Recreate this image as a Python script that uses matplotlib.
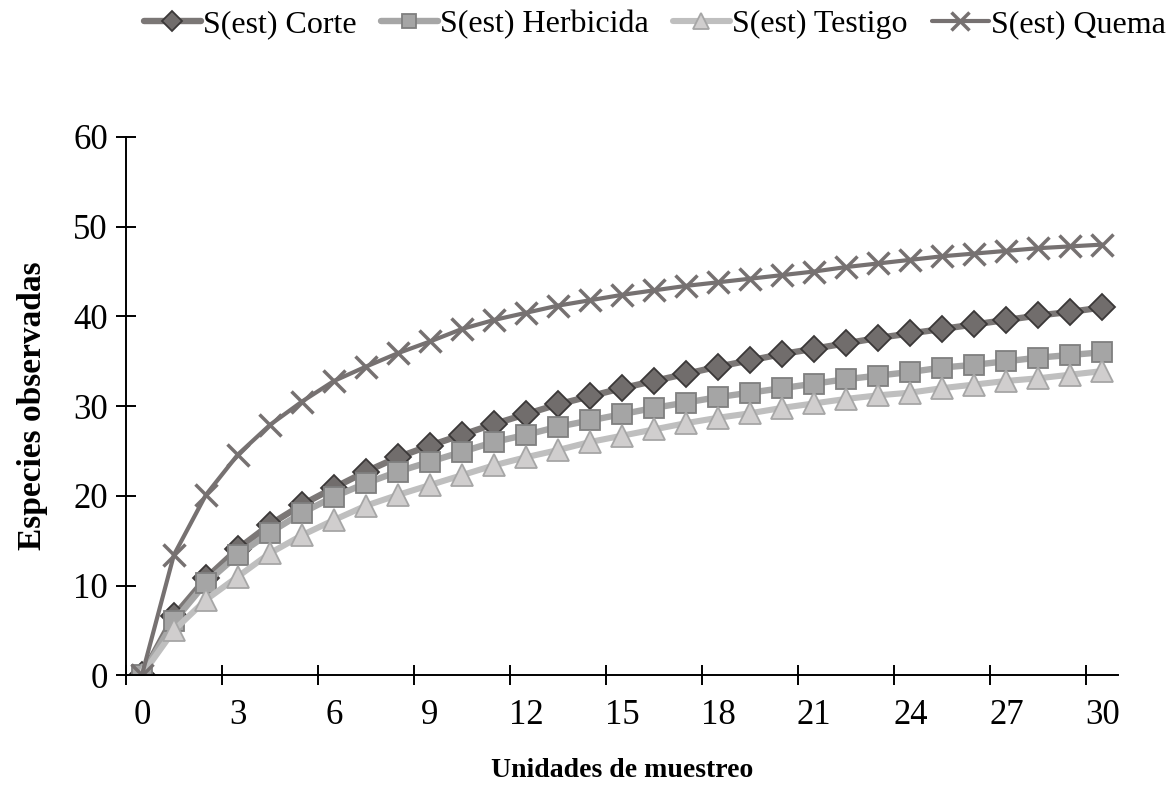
import matplotlib
matplotlib.use("Agg")
import matplotlib.pyplot as plt
import numpy as np

x = list(range(0, 31))
corte = [0, 6.6, 10.8, 14.1, 16.8, 19.0, 20.9, 22.7, 24.3, 25.6, 26.8, 28.0, 29.1, 30.2, 31.1,
         32.0, 32.8, 33.6, 34.4, 35.1, 35.8, 36.4, 37.0, 37.6, 38.1, 38.6, 39.1, 39.6, 40.1, 40.5, 41.0]
herbicida = [0, 6.0, 10.3, 13.4, 15.9, 18.1, 19.9, 21.4, 22.7, 23.8, 24.9, 26.0, 26.8, 27.7, 28.4,
             29.1, 29.8, 30.4, 31.0, 31.5, 32.0, 32.5, 33.0, 33.4, 33.8, 34.3, 34.6, 35.0, 35.4, 35.7, 36.0]
testigo = [0, 5.0, 8.4, 11.0, 13.6, 15.6, 17.3, 18.9, 20.1, 21.2, 22.3, 23.4, 24.3, 25.1, 26.0,
           26.7, 27.4, 28.1, 28.7, 29.2, 29.8, 30.3, 30.8, 31.2, 31.5, 32.0, 32.4, 32.8, 33.1, 33.5, 33.9]
quema = [0, 13.4, 20.1, 24.6, 27.9, 30.5, 32.8, 34.4, 35.9, 37.2, 38.6, 39.6, 40.4, 41.2, 41.8,
         42.4, 42.9, 43.4, 43.8, 44.2, 44.6, 45.0, 45.5, 45.9, 46.3, 46.7, 47.0, 47.3, 47.6, 47.8, 48.0]
labels = ["S(est) Corte", "S(est) Herbicida", "S(est) Testigo", "S(est) Quema"]
xticks = list(range(0, 31, 3))
yticks = list(range(0, 61, 10))

plt.rcParams['font.family'] = ['Liberation Serif', 'DejaVu Serif']

fig = plt.figure(figsize=(11.76, 7.87), dpi=100)
ax = fig.add_axes([0.107, 0.142, 0.844, 0.684])

ax.plot(x, corte, color='#7b7776', lw=4.6, marker='D', ms=13.5, mfc='#716d6c', mec='#3b3838',
        mew=1.3, label=labels[0], solid_capstyle='round')
ax.plot(x, herbicida, color='#a6a6a6', lw=4.6, marker='s', ms=14, mfc='#a5a5a5', mec='#7f7f7f',
        mew=1.3, label=labels[1], solid_capstyle='round')
ax.plot(x, testigo, color='#bfbfbf', lw=4.4, marker='^', ms=15.5, mfc='#d0cece', mec='#a6a6a6',
        mew=1.3, label=labels[2], solid_capstyle='round')
ax.plot(x, quema, color='#767171', lw=3.0, marker='x', ms=16.5, mec='#767171', mew=2.5,
        label=labels[3], solid_capstyle='round')

ax.set_xlim(-0.5, 30.5)
ax.set_ylim(0, 60)
ax.set_xticks(xticks)
ax.set_yticks(yticks)
for s in ['top', 'right']:
    ax.spines[s].set_visible(False)
for s in ['left', 'bottom']:
    ax.spines[s].set_linewidth(1.4)
    ax.spines[s].set_color('black')
ax.tick_params(axis='both', direction='inout', length=14, width=1.4, labelsize=25)
ax.tick_params(axis='y', pad=6)
# x tick marks between categories
ax.set_xticks([v - 0.5 for v in xticks[:-1]] + [29.5], minor=True)
ax.tick_params(axis='x', which='major', length=0, pad=17)
ax.tick_params(axis='x', which='minor', direction='inout', length=14, width=1.4)
ax.set_xlabel("Unidades de muestreo", fontsize=20, fontweight='bold', labelpad=19)
ax.set_ylabel("Especies observadas", fontsize=24, fontweight='bold', labelpad=18)

fig.legend(loc='upper center', bbox_to_anchor=(0.557, 1.024), ncol=4, frameon=False,
           fontsize=23, handlelength=1.78, columnspacing=0.75, handletextpad=0.08,
           markerscale=0.75)

fig.savefig("out.png", dpi=100)
